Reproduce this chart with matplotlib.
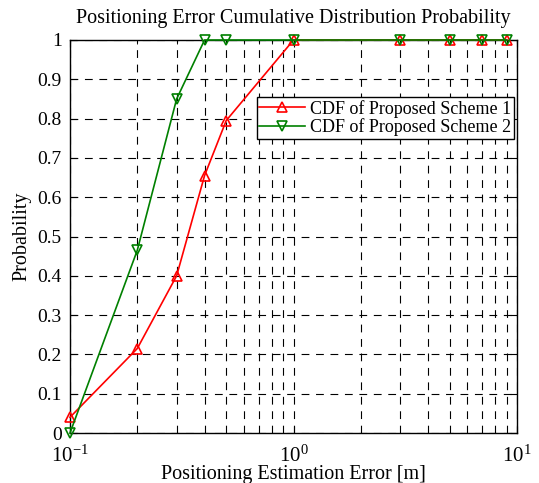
import matplotlib
matplotlib.use("Agg")
import matplotlib.pyplot as plt
import numpy as np

x_vals = [0.1, 0.2, 0.3, 0.4, 0.5, 1, 3, 5, 7, 9]
scheme1 = [0.04, 0.215, 0.40, 0.655, 0.795, 1.0, 1.0, 1.0, 1.0, 1.0]
scheme2 = [0.0, 0.465, 0.85, 1.0, 1.0, 1.0, 1.0, 1.0, 1.0, 1.0]
labels = ["CDF of Proposed Scheme 1", "CDF of Proposed Scheme 2"]
y_ticks = [0, 0.1, 0.2, 0.3, 0.4, 0.5, 0.6, 0.7, 0.8, 0.9, 1]
y_ticklabels = ["0", "0.1", "0.2", "0.3", "0.4", "0.5", "0.6", "0.7", "0.8", "0.9", "1"]

plt.rcParams['font.family'] = ['Liberation Serif', 'DejaVu Serif']
plt.rcParams['mathtext.fontset'] = 'custom'
plt.rcParams['mathtext.rm'] = 'Liberation Serif'
plt.rcParams['mathtext.it'] = 'Liberation Serif'
plt.rcParams['mathtext.default'] = 'regular'

fig = plt.figure(figsize=(5.39, 4.83), dpi=100)
ax = fig.add_axes([70/539, 1-433/483, (517-70)/539, (433-40)/483])

ax.plot(x_vals, scheme1, color='red', marker='^', markersize=7, markerfacecolor='none',
        markeredgecolor='red', markeredgewidth=1.2, linewidth=1.2, label=labels[0], clip_on=False, zorder=3)
ax.plot(x_vals, scheme2, color='green', marker='v', markersize=7, markerfacecolor='none',
        markeredgecolor='green', markeredgewidth=1.2, linewidth=1.2, label=labels[1], clip_on=False, zorder=3)

ax.set_xscale('log')
ax.set_xlim(0.1, 10)
ax.set_ylim(0, 1)
ax.set_yticks(y_ticks)
ax.set_yticklabels(y_ticklabels)

ax.grid(True, which='major', color='black', linestyle=(0, (7, 6)), linewidth=0.8)
ax.grid(True, which='minor', axis='x', color='black', linestyle=(0, (7, 6)), linewidth=0.8)
ax.tick_params(which='both', direction='in', top=True, right=True, labelsize=14)
ax.tick_params(axis='x', which='major', pad=9, labelsize=15)
ax.tick_params(axis='y', which='major', pad=6)
ax.tick_params(which='major', length=5)
ax.tick_params(which='minor', length=3)
for s in ax.spines.values():
    s.set_linewidth(1.0)

ax.set_title("Positioning Error Cumulative Distribution Probability", fontsize=14.5, pad=12)
ax.set_xlabel("Positioning Estimation Error [m]", fontsize=14.5, labelpad=-1)
ax.set_ylabel("Probability", fontsize=14.5, labelpad=4)

leg = ax.legend(loc='upper right', bbox_to_anchor=(1 - 3/447, (433-97)/393), borderaxespad=0,
                fontsize=13, fancybox=False,
                edgecolor='black', framealpha=1, borderpad=0.15, labelspacing=0.05,
                handlelength=2.5, handletextpad=0.3)
leg.get_frame().set_linewidth(1.0)

fig.savefig("out.png", dpi=100)
